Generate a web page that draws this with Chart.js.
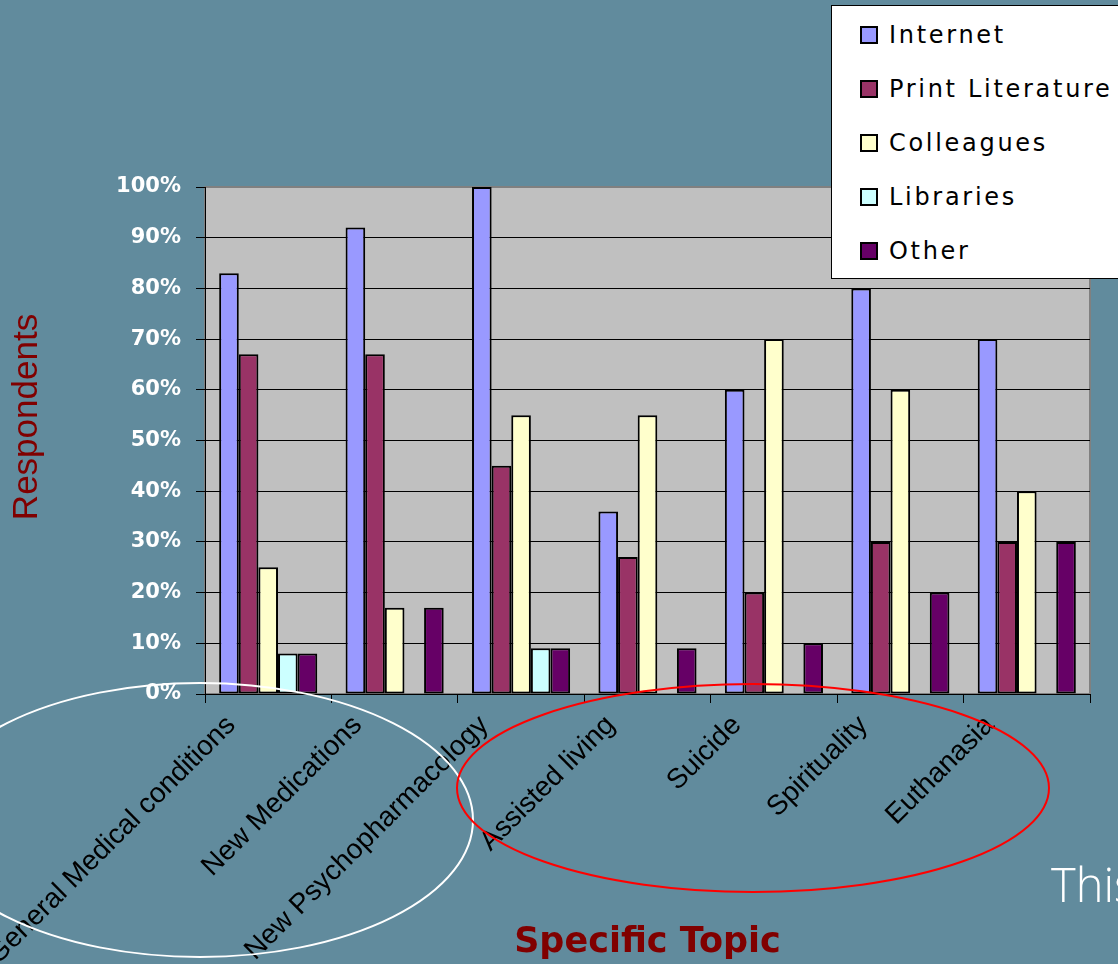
<!DOCTYPE html>
<html>
<head>
<meta charset="utf-8">
<script src="https://cdn.jsdelivr.net/npm/chart.js@4.4.1/dist/chart.umd.min.js"></script>
<style>
  html, body { margin: 0; padding: 0; background: #618b9d; }
  #wrap { position: relative; width: 1118px; height: 964px; overflow: hidden; }
  #legend {
    position: absolute; left: 831px; top: 5px; width: 300px; height: 274px;
    background: #fff; border: 1px solid #000; box-sizing: border-box;
    font-family: "DejaVu Sans", sans-serif; font-size: 24px; letter-spacing: 2.7px; color: #000;
  }
  .item { position: absolute; left: 28px; height: 30px; line-height: 30px; white-space: nowrap; }
  .box { display: inline-block; width: 14px; height: 14px; border: 2px solid #000; margin-right: 11px; vertical-align: -1px; }
  #this { position: absolute; left: 1051px; top: 852px; color: #fff; font-family: "Open Sans", sans-serif; font-weight: 300; font-size: 47px; }
</style>
</head>
<body>
<div id="wrap">
  <canvas id="grafico" width="1118" height="964"></canvas>
  <div id="legend"></div>
  <div id="this">This</div>
</div>
<script>
// dados (% de respondentes)
var topicos = ['General Medical conditions', 'New Medications', 'New Psychopharmacology', 'Assisted living', 'Suicide', 'Spirituality', 'Euthanasia'];
var internet = [83, 92, 100, 36, 60, 80, 70];
var printLiterature = [67, 67, 45, 27, 20, 30, 30];
var colleagues = [25, 17, 55, 55, 70, 60, 40];
var libraries = [8, 0, 9, 0, 0, 0, 0];
var other = [8, 17, 9, 9, 10, 20, 30];
var nomesSeries = ['Internet', 'Print Literature', 'Colleagues', 'Libraries', 'Other'];
var coresSeries = ['#9999ff', '#993366', '#ffffcc', '#ccffff', '#660066'];

var valores = [internet, printLiterature, colleagues, libraries, other];

var datasets = valores.map(function (v, i) {
    return {
        label: nomesSeries[i],
        data: v,
        backgroundColor: coresSeries[i],
        borderColor: '#000',
        borderWidth: 2,
        borderSkipped: false
    };
});

// legenda em html por cima do grafico
var legend = document.getElementById('legend');
for (var i = 0; i < nomesSeries.length; i++) {
    var div = document.createElement('div');
    div.className = 'item';
    div.style.top = (14 + i * 54) + 'px';
    div.innerHTML = '<span class="box" style="background:' + coresSeries[i] + '"></span>' + nomesSeries[i];
    legend.appendChild(div);
}

var fundoPlot = {
    id: 'fundoPlot',
    beforeDraw: function (chart) {
        var ctx = chart.ctx;
        var a = chart.chartArea;
        ctx.save();
        ctx.fillStyle = '#c0c0c0';
        ctx.fillRect(a.left, a.top, a.right - a.left, a.bottom - a.top);
        ctx.strokeStyle = '#808080';
        ctx.lineWidth = 2;
        ctx.strokeRect(a.left, a.top, a.right - a.left, a.bottom - a.top);
        ctx.restore();
    },
    afterDraw: function (chart) {
        var ctx = chart.ctx;
        ctx.save();
        // titulo do eixo y
        ctx.translate(27, 417);
        ctx.rotate(-Math.PI / 2);
        ctx.fillStyle = '#800000';
        ctx.font = '35px "Liberation Sans", Arial, sans-serif';
        ctx.textAlign = 'center';
        ctx.textBaseline = 'middle';
        ctx.fillText('Respondents', 0, 0);
        ctx.restore();

        // elipses de destaque
        ctx.save();
        ctx.lineWidth = 2;
        ctx.strokeStyle = '#ffffff';
        ctx.beginPath();
        ctx.ellipse(200, 820, 273, 137, 0, 0, Math.PI * 2);
        ctx.stroke();
        ctx.strokeStyle = '#ff0000';
        ctx.beginPath();
        ctx.ellipse(753, 788, 296, 104, 0, 0, Math.PI * 2);
        ctx.stroke();
        ctx.restore();
    }
};

var grafico = new Chart(document.getElementById('grafico').getContext('2d'), {
    type: 'bar',
    data: { labels: topicos, datasets: datasets },
    plugins: [fundoPlot],
    options: {
        responsive: false,
        animation: false,
        layout: { padding: { top: 187, right: 28, left: 0, bottom: 0 } },
        plugins: { legend: { display: false }, tooltip: { enabled: false } },
        datasets: { bar: { categoryPercentage: 0.776, barPercentage: 1 } },
        scales: {
            x: {
                offset: true,
                afterFit: function (s) { s.height = 270; s.paddingLeft = 0; s.paddingRight = 0; },
                grid: { offset: true, drawOnChartArea: false, color: '#000', tickLength: 9 },
                border: { color: '#000', width: 1 },
                ticks: {
                    autoSkip: false, minRotation: 45, maxRotation: 45,
                    color: '#000', padding: 6, labelOffset: -37,
                    font: { family: '"Liberation Sans", Arial, sans-serif', size: 28 }
                },
                title: {
                    display: true, text: 'Specific Topic', color: '#800000',
                    font: { family: '"DejaVu Sans", sans-serif', size: 35, weight: 'bold' },
                    padding: { top: 0, bottom: 0 }
                }
            },
            y: {
                min: 0, max: 100,
                afterFit: function (s) { s.width = 205; },
                grid: {
                    color: function (c) { return c.tick.value === 100 ? '#808080' : '#000'; },
                    tickColor: '#000', tickLength: 9
                },
                border: { color: '#000', width: 1 },
                ticks: {
                    stepSize: 10, color: '#fff', padding: 15,
                    font: { family: '"DejaVu Sans", sans-serif', size: 21, weight: 'bold' },
                    callback: function (v) { return v + '%'; }
                }
            }
        }
    }
});
</script>
</body>
</html>
